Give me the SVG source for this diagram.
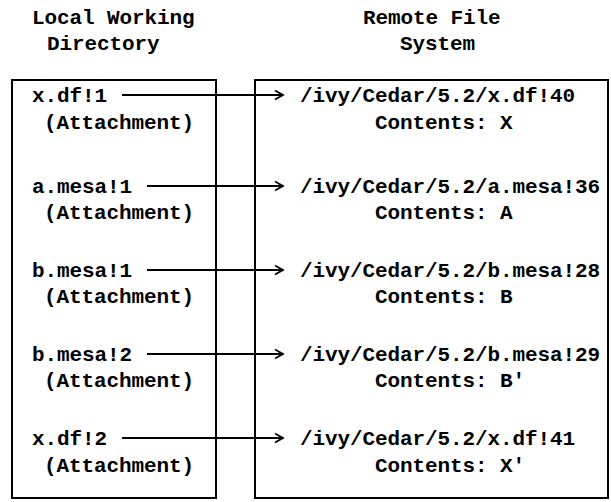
<svg xmlns="http://www.w3.org/2000/svg" width="611" height="502" viewBox="0 0 611 502">
<defs>
<style>
text{font-family:"Liberation Mono","Courier New",monospace;font-weight:bold;font-size:21px;letter-spacing:-0.1px;fill:#000}
.box{fill:none;stroke:#000;stroke-width:2}
.conn line{stroke:#000;stroke-width:1.8}
</style>
<marker id="ah" markerWidth="12" markerHeight="12" refX="10" refY="6" orient="auto" markerUnits="userSpaceOnUse">
<path d="M2,1.5 L10,6 L2,10.5" fill="none" stroke="#000" stroke-width="1.8"/>
</marker>
</defs>
<rect width="611" height="502" fill="#fff"/>
<g id="titles">
<text x="32" y="24">Local Working</text>
<text x="47" y="50">Directory</text>
<text x="363" y="24">Remote File</text>
<text x="400" y="50">System</text>
</g>
<g id="local-dir">
<rect class="box" x="12" y="80" width="204" height="418"/>
</g>
<g id="remote-fs">
<rect class="box" x="255" y="80" width="353" height="418"/>
</g>
<g id="local1"><text x="32" y="102">x.df!1</text><text x="44" y="129">(Attachment)</text></g>
<g id="local2"><text x="32" y="193">a.mesa!1</text><text x="44" y="219">(Attachment)</text></g>
<g id="local3"><text x="32" y="277">b.mesa!1</text><text x="44" y="303">(Attachment)</text></g>
<g id="local4"><text x="32" y="361">b.mesa!2</text><text x="44" y="387">(Attachment)</text></g>
<g id="local5"><text x="32" y="445">x.df!2</text><text x="44" y="472">(Attachment)</text></g>
<g id="remote1"><text x="300" y="102">/ivy/Cedar/5.2/x.df!40</text><text x="375" y="129">Contents: X</text></g>
<g id="remote2"><text x="300" y="193">/ivy/Cedar/5.2/a.mesa!36</text><text x="375" y="219">Contents: A</text></g>
<g id="remote3"><text x="300" y="277">/ivy/Cedar/5.2/b.mesa!28</text><text x="375" y="303">Contents: B</text></g>
<g id="remote4"><text x="300" y="361">/ivy/Cedar/5.2/b.mesa!29</text><text x="375" y="387">Contents: B'</text></g>
<g id="remote5"><text x="300" y="445">/ivy/Cedar/5.2/x.df!41</text><text x="375" y="472">Contents: X'</text></g>
<g id="connectors" class="conn">
<line x1="122" y1="95" x2="283" y2="95" marker-end="url(#ah)"/>
<line x1="147" y1="186" x2="283" y2="186" marker-end="url(#ah)"/>
<line x1="147" y1="270" x2="283" y2="270" marker-end="url(#ah)"/>
<line x1="147" y1="354" x2="283" y2="354" marker-end="url(#ah)"/>
<line x1="122" y1="438" x2="283" y2="438" marker-end="url(#ah)"/>
</g>
</svg>
